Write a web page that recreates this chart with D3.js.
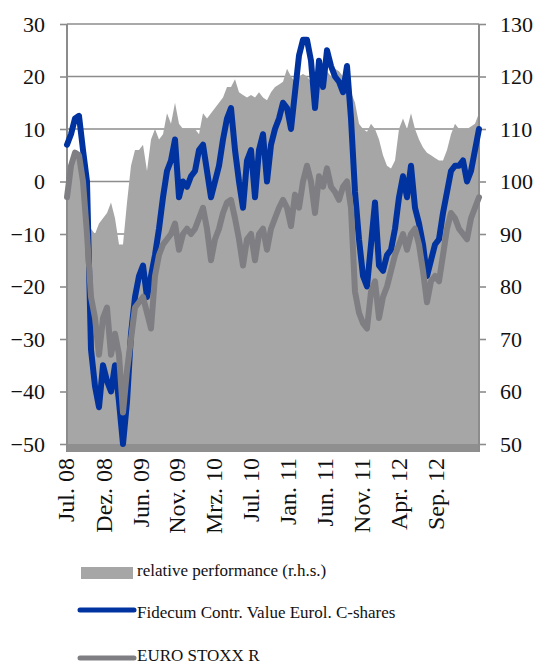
<!DOCTYPE html>
<html>
<head>
<meta charset="utf-8">
<script src="https://cdn.jsdelivr.net/npm/d3@7"></script>
<style>
  body { margin: 0; background: #fff; }
  text { font-family: "Liberation Serif", "DejaVu Serif", serif; fill: #111; }
</style>
</head>
<body>
<div class="chart"></div>
<script>
// Fidecum Contr. Value Eurol. C-shares (l.h.s., %)
var fidecum = [
  7, 9, 12, 12.5, 6, 0, -32, -39, -43, -35,
  -38, -40, -35, -42, -50, -42, -29, -22, -18, -16,
  -22, -18, -14, -9, -3, 2, 4, 8, -3, 0,
  -1, 1, 2, 6, 7, 2, -3, 0, 3, 8,
  12, 14, 6, 0, -5, 4, 6, -3, 6, 9,
  0, 7, 10, 12, 15, 14, 10, 17, 24, 27,
  27, 23, 14, 23, 18, 25, 22, 20, 19, 17,
  22, 12, -2, -11, -18, -20, -12, -4, -16, -17,
  -14, -13, -9, -3, 1, -3, 3, -5, -8, -12,
  -18, -15, -12, -11, -6, -2, 2, 3, 3, 4,
  0, 2, 6, 10
];

// EURO STOXX R (l.h.s., %)
var stoxx = [
  -3, 3, 5.5, 5, 0, -10, -22, -26, -33, -26,
  -24, -33, -29, -33, -44, -36, -30, -24, -23, -22,
  -25, -28, -18, -14, -12, -11, -10, -8, -13, -10,
  -9, -10, -9, -7, -5, -9, -15, -11, -9, -6,
  -4, -3.5, -7, -11, -16, -11, -10, -15, -10, -9,
  -13, -9, -7, -5, -3.5, -5, -8.5, -2.5, -5, 0,
  3, 0, -6, 1, -1, 2.5, -1, -2, -3.5, -1,
  0, -5, -21, -25, -27, -28, -21, -19, -26, -22,
  -20, -17, -14, -12, -10, -13, -10, -9, -12, -17,
  -23, -19, -18, -19, -14, -9, -6, -7, -9, -10,
  -11, -7, -5, -3
];

// relative performance (r.h.s.)
var relPerf = [
  96, 103, 106, 104, 96, 92, 91, 90, 92, 93,
  94, 96, 93, 88, 88, 96, 103, 106, 106, 107,
  102, 108, 110, 108, 109, 113, 111, 115, 111, 110,
  110, 110, 110, 109, 113, 112, 113, 114, 115, 116,
  118, 118, 119.5, 117, 116.5, 116, 116.5, 116, 117, 116,
  115.5, 117, 118, 118.5, 119, 121.5, 120, 119, 120, 120.5,
  120, 119, 119.5, 120, 120, 121, 120, 121.5, 121, 120,
  119, 117, 115, 111, 110, 109.5, 111, 110, 108, 105,
  103, 102.5, 104, 110, 112, 110, 113, 110, 108, 106.5,
  105.5, 105, 104.5, 104, 104, 106, 109, 111, 110, 110,
  110, 110.5, 111, 113
];

var xLabels = ["Jul. 08", "Dez. 08", "Jun. 09", "Nov. 09", "Mrz. 10", "Jul. 10",
               "Jan. 11", "Jun. 11", "Nov. 11", "Apr. 12", "Sep. 12"];
var xLabelIndex = [-0.25, 9.1, 18.3, 27.5, 36.7, 46, 55.2, 64.5, 73.7, 83, 92.2];

var leftTicks = [30, 20, 10, 0, -10, -20, -30, -40, -50];
var rightTicks = [130, 120, 110, 100, 90, 80, 70, 60, 50];

var legendNames = ["relative performance (r.h.s.)",
                   "Fidecum Contr. Value Eurol. C-shares",
                   "EURO STOXX R"];

var svgWidth = 541, svgHeight = 664;
var margin = { top: 24, left: 67, right: 62, bottom: 220 };
var width = svgWidth - margin.left - margin.right;
var height = svgHeight - margin.top - margin.bottom;

var svg = d3.select(".chart").append("svg")
  .attr("width", svgWidth)
  .attr("height", svgHeight);

var chartGroup = svg.append("g")
  .attr("transform", `translate(${margin.left}, ${margin.top})`);

var xScale = d3.scaleLinear().domain([0, fidecum.length - 1]).range([0, width]);
var yLeft = d3.scaleLinear().domain([-50, 30]).range([height, 0]);
var yRight = d3.scaleLinear().domain([50, 130]).range([height, 0]);

var gridColor = "#8c8c8c";

// gridlines
chartGroup.selectAll(".grid")
  .data(leftTicks.slice(0, -1))
  .enter()
  .append("line")
  .attr("x1", 0)
  .attr("x2", width)
  .attr("y1", d => yLeft(d))
  .attr("y2", d => yLeft(d))
  .attr("stroke", gridColor)
  .attr("stroke-width", 1.6);

// relative performance area
var area = d3.area()
  .x((d, i) => xScale(i))
  .y0(yRight(50))
  .y1(d => yRight(d));

chartGroup.append("path")
  .datum(relPerf)
  .attr("d", area)
  .attr("fill", "#a6a6a6");

// bottom band (x axis)
chartGroup.append("rect")
  .attr("x", -1)
  .attr("y", height)
  .attr("width", width + 2)
  .attr("height", 8)
  .attr("fill", "#8f8f8f");

// axes
var leftAxis = d3.axisLeft(yLeft).tickValues(leftTicks).tickSize(7).tickPadding(15);
var rightAxis = d3.axisRight(yRight).tickValues(rightTicks).tickSize(7).tickPadding(14);

var gl = chartGroup.append("g").call(leftAxis);
var gr = chartGroup.append("g").attr("transform", `translate(${width}, 0)`).call(rightAxis);

[gl, gr].forEach(function(g) {
  g.select(".domain").attr("stroke", gridColor).attr("stroke-width", 2)
    .attr("d", `M0,0V${height + 8}`);
  g.selectAll(".tick line").attr("stroke", gridColor).attr("stroke-width", 1.6);
  g.selectAll(".tick text")
    .attr("font-size", 22)
    .attr("fill", "#111");
});

// lines
var lineGen = d3.line()
  .x((d, i) => xScale(i))
  .y(d => yLeft(d));

chartGroup.append("path")
  .datum(fidecum)
  .attr("d", lineGen)
  .attr("fill", "none")
  .attr("stroke", "#0033a0")
  .attr("stroke-width", 6)
  .attr("stroke-linejoin", "round")
  .attr("stroke-linecap", "round");

chartGroup.append("path")
  .datum(stoxx)
  .attr("d", lineGen)
  .attr("fill", "none")
  .attr("stroke", "#7f7e82")
  .attr("stroke-width", 6)
  .attr("stroke-linejoin", "round")
  .attr("stroke-linecap", "round");

// x labels, rotated
chartGroup.selectAll(".xlab")
  .data(xLabels)
  .enter()
  .append("text")
  .attr("transform", (d, i) => `translate(${xScale(xLabelIndex[i])}, ${height + 14}) rotate(-90)`)
  .attr("text-anchor", "end")
  .attr("dy", "0.35em")
  .attr("font-size", 24)
  .text(d => d);

// legend
var legend = svg.append("g");
legend.append("rect")
  .attr("x", 81).attr("y", 567).attr("width", 52).attr("height", 12)
  .attr("fill", "#a6a6a6");
legend.append("line")
  .attr("x1", 80).attr("x2", 134).attr("y1", 610).attr("y2", 610)
  .attr("stroke", "#0033a0").attr("stroke-width", 5).attr("stroke-linecap", "round");
legend.append("line")
  .attr("x1", 80).attr("x2", 134).attr("y1", 658).attr("y2", 658)
  .attr("stroke", "#7f7e82").attr("stroke-width", 5).attr("stroke-linecap", "round");

legend.selectAll(".legtext")
  .data(legendNames)
  .enter()
  .append("text")
  .attr("x", 137)
  .attr("y", (d, i) => [579, 621, 664][i])
  .attr("dy", "-0.2em")
  .attr("font-size", 17)
  .text(d => d);
</script>
</body>
</html>
